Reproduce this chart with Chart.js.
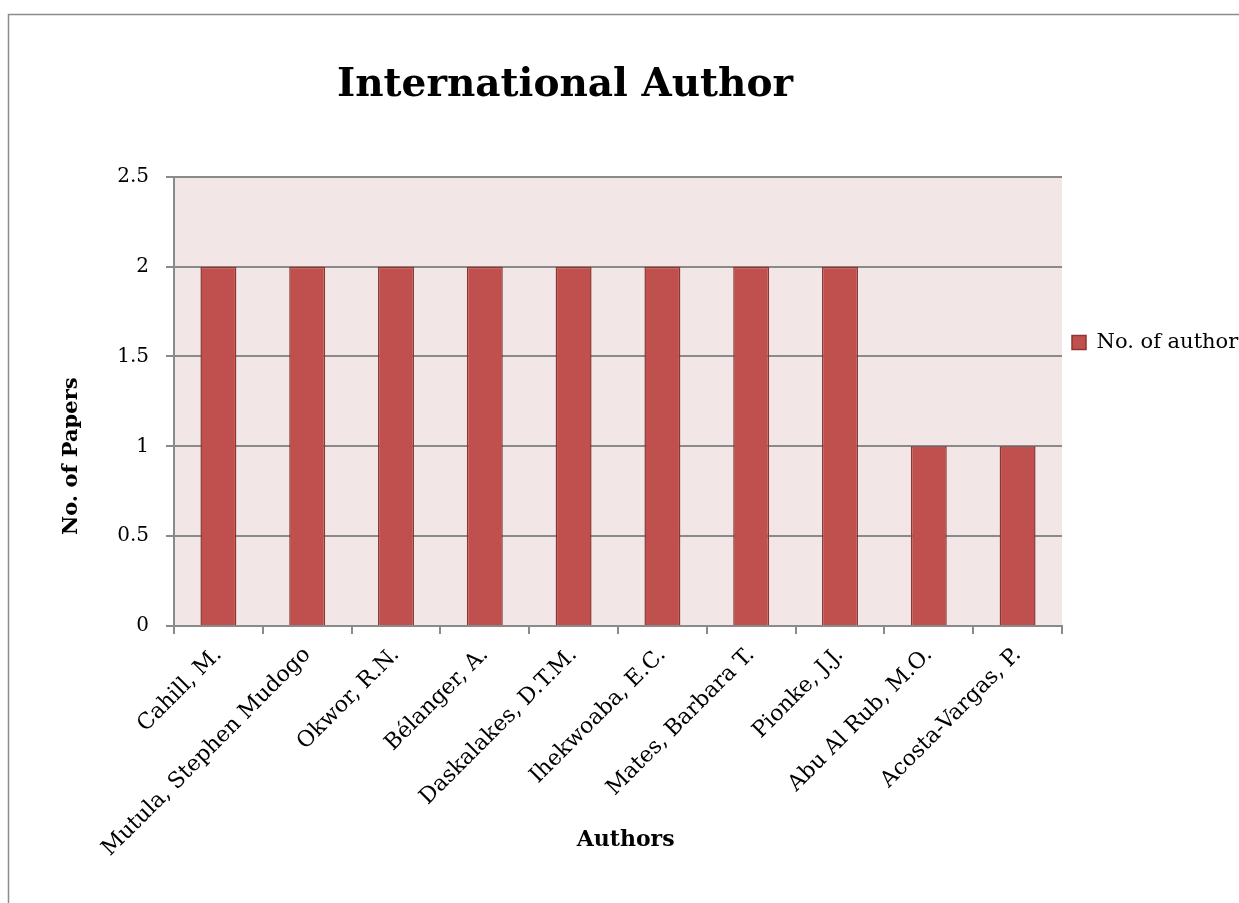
<!DOCTYPE html>
<html>
<head>
<meta charset="utf-8">
<script src="https://cdn.jsdelivr.net/npm/chart.js@4.4.0/dist/chart.umd.min.js"></script>
<style>
    body { margin: 0; background: #ffffff; }
    #wrap { width: 1239px; height: 903px; }
</style>
</head>
<body>
<div id="wrap"><canvas id="authorChart" width="1239" height="903"></canvas></div>
<script>
// chart data
const authors = ["Cahill, M.", "Mutula, Stephen Mudogo", "Okwor, R.N.", "Bélanger, A.", "Daskalakes, D.T.M.",
    "Ihekwoaba, E.C.", "Mates, Barbara T.", "Pionke, J.J.", "Abu Al Rub, M.O.", "Acosta-Vargas, P."]
const papers = [2, 2, 2, 2, 2, 2, 2, 2, 1, 1]
const yTicks = [0, 0.5, 1, 1.5, 2, 2.5]
const yTickLabels = ["0", "0.5", "1", "1.5", "2", "2.5"]

const serif = "'DejaVu Serif', serif"

// pink plot background + outer frame, like the excel export
const frame = {
    id: 'frame',
    beforeLayout(chart) {
        let lg = chart.legend
        if (lg && !lg._fixed) {
            let fit = lg.fit
            lg.fit = function() { fit.call(this); this.width = 177 }
            lg._fixed = true
        }
    },
    afterLayout(chart) {
        chart.titleBlock.left = 0
        chart.titleBlock.right = 1130
        chart.legend.top = 322
        chart.legend.bottom = 372
    },
    beforeDraw(chart) {
        let ctx = chart.ctx
        let a = chart.chartArea
        ctx.save()
        ctx.fillStyle = '#ffffff'
        ctx.fillRect(0, 0, chart.width, chart.height)
        ctx.strokeStyle = '#8c8c8c'
        ctx.lineWidth = 1.5
        ctx.strokeRect(8.5, 14.5, chart.width + 50, chart.height + 50)
        ctx.fillStyle = '#f2e7e6'
        ctx.fillRect(a.left, a.top, a.right - a.left, a.bottom - a.top)
        ctx.restore()
    }
}

var chart = new Chart(document.getElementById('authorChart'), {
    type: 'bar',
    data: {
        labels: authors,
        datasets: [{
            label: 'No. of authors',
            data: papers,
            backgroundColor: '#c0504d',
            borderColor: '#8e3533',
            borderWidth: 1.5,
            borderSkipped: 'bottom',
            categoryPercentage: 1,
            barPercentage: 0.405
        }]
    },
    options: {
        responsive: false,
        animation: false,
        layout: { padding: 0 },
        plugins: {
            title: {
                display: true,
                text: 'International Author',
                color: '#000000',
                font: { family: serif, size: 39, weight: 'bold' },
                padding: { top: 62, bottom: 68 }
            },
            legend: {
                position: 'right',
                align: 'start',
                fullSize: false,
                labels: {
                    color: '#000000',
                    font: { family: serif, size: 21 },
                    boxWidth: 14,
                    boxHeight: 14,
                    padding: 10
                }
            },
            tooltip: { enabled: false }
        },
        scales: {
            x: {
                afterFit(scale) { scale.height = 277 },
                grid: {
                    offset: true,
                    drawOnChartArea: false,
                    color: '#8a8a8a',
                    lineWidth: 2,
                    tickLength: 8
                },
                border: { color: '#8a8a8a', width: 2 },
                ticks: {
                    color: '#000000',
                    font: { family: serif, size: 22 },
                    minRotation: 45,
                    maxRotation: 45,
                    autoSkip: false,
                    padding: 8
                },
                title: {
                    display: true,
                    text: '  Authors',
                    color: '#000000',
                    font: { family: serif, size: 22, weight: 'bold' },
                    padding: { top: 0, bottom: 50 }
                }
            },
            y: {
                min: 0,
                max: 2.5,
                afterFit(scale) { scale.width = 174 },
                afterBuildTicks(scale) { scale.ticks = yTicks.map(v => ({ value: v })) },
                grid: {
                    color: '#8a8a8a',
                    lineWidth: 2,
                    tickLength: 8
                },
                border: { color: '#8a8a8a', width: 2 },
                ticks: {
                    color: '#000000',
                    font: { family: serif, size: 20 },
                    padding: 17,
                    callback: (v, i) => yTickLabels[i]
                },
                title: {
                    display: true,
                    // trailing spaces push the title down to where excel put it
                    text: 'No. of Papers               ',
                    color: '#000000',
                    font: { family: serif, size: 21, weight: 'bold' },
                    padding: { top: 59, bottom: 0 }
                }
            }
        }
    },
    plugins: [frame]
})
</script>
</body>
</html>
